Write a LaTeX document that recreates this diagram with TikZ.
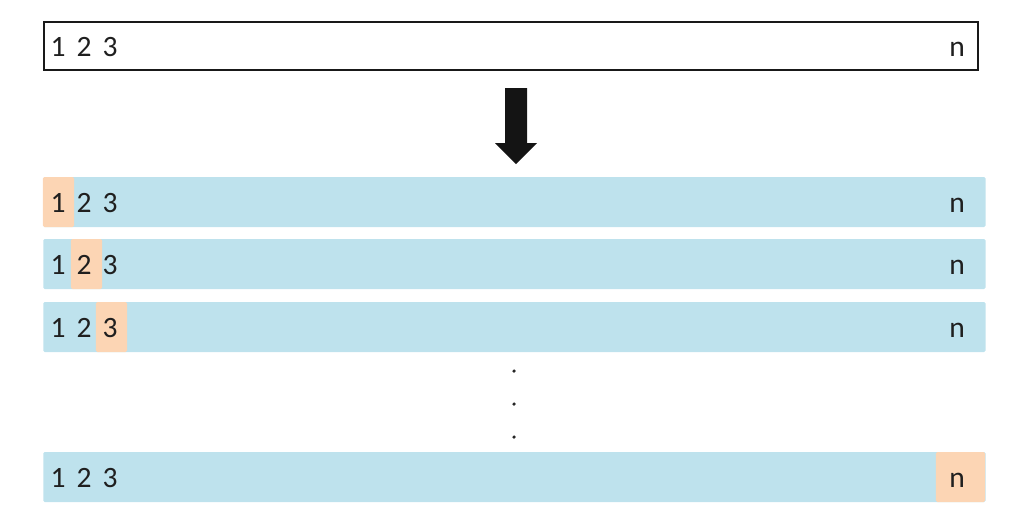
\documentclass[tikz,border=0pt]{standalone}
\usepackage{fontspec}
\setmainfont{Carlito}
\usetikzlibrary{positioning}
\definecolor{rowblue}{RGB}{190,226,237}
\definecolor{cellorange}{RGB}{252,213,180}

\begin{document}
\begin{tikzpicture}[
        x=0.025cm, y=-0.025cm,
        num/.style={inner sep=0pt, anchor=base, font=\fontsize{21}{24}\selectfont, text=black!88},
        bar/.style={rectangle, fill=rowblue, rounded corners=1pt, minimum width=23.55cm, minimum height=1.25cm, anchor=west, inner sep=0pt},
        cell/.style={rectangle, fill=cellorange, rounded corners=1pt, minimum width=0.78cm, minimum height=1.25cm, inner sep=0pt},
        topbox/.style={rectangle, draw=black!90, line width=1.4pt, minimum width=23.35cm, minimum height=1.2cm, anchor=west, inner sep=0pt}
    ]
    \useasboundingbox (0,0) rectangle (1033,529);

    % Input sequence
    \node (input) [topbox] at (43,46) {};
    \foreach \d/\x in {1/58, 2/84, 3/110, n/957}
        \node (in\d) [num] at (\x,56) {\d};

    % Arrow
    \fill[black!92] (505,88) -- (527,88) -- (527,143) -- (537,143) -- (516,164) -- (495,143) -- (505,143) -- cycle;

    % Rows, one highlighted position each
    \foreach \r/\y/\cx in {1/202/58.5, 2/264/86.5, 3/327/111.5} {
        \node (row\r) [bar] at (43,\y) {};
        \node (cell\r) [cell] at (\cx,\y) {};
        \foreach \d/\x in {1/58, 2/84, 3/110, n/957}
            \node (r\r n\d) [num] at (\x,\y+10) {\d};
    }

    % Dots
    \foreach \i/\y in {1/371, 2/404, 3/437}
        \node (dot\i) [circle, fill=black!85, inner sep=0pt, minimum size=2.5pt] at (514,\y) {};

    % Last row
    \node (rowlast) [bar] at (43,477) {};
    \node (celllast) [cell, minimum width=1.23cm] at (960.5,477) {};
    \foreach \d/\x in {1/58, 2/84, 3/110, n/957}
        \node (rlast\d) [num] at (\x,487) {\d};

\end{tikzpicture}
\end{document}
